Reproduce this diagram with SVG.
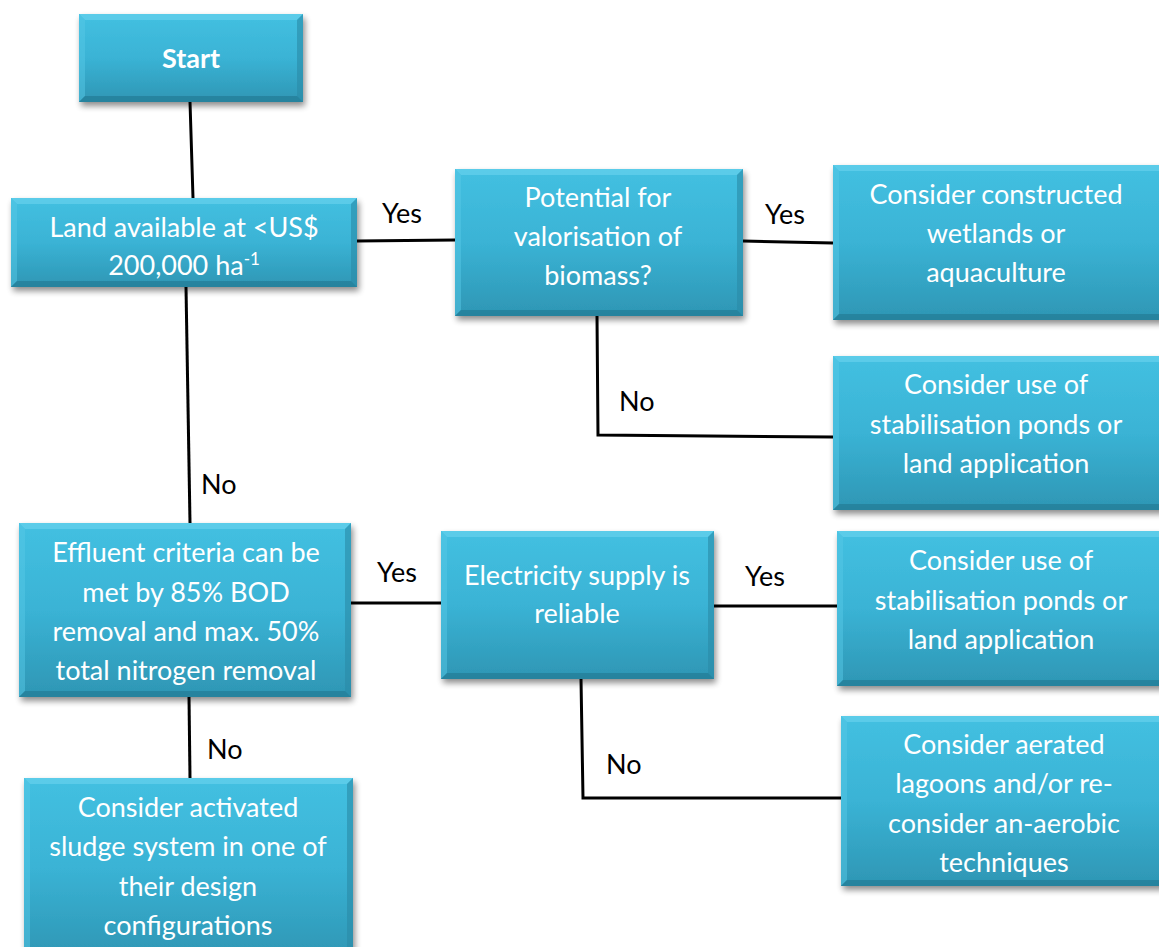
<svg xmlns="http://www.w3.org/2000/svg" width="1159" height="947" viewBox="0 0 1159 947">
<defs>
<linearGradient id="g" x1="0" y1="0" x2="0" y2="1">
<stop offset="0" stop-color="#43C0E1"/>
<stop offset="0.5" stop-color="#3AB3D5"/>
<stop offset="1" stop-color="#2E96B4"/>
</linearGradient>
<filter id="sh" x="-10%" y="-10%" width="130%" height="130%">
<feGaussianBlur in="SourceAlpha" stdDeviation="3"/>
<feOffset dx="2" dy="4" result="b"/>
<feComponentTransfer><feFuncA type="linear" slope="0.45"/></feComponentTransfer>
<feMerge><feMergeNode/><feMergeNode in="SourceGraphic"/></feMerge>
</filter>
</defs>
<style>
.box{fill:url(#g);filter:url(#sh)}
.bt{fill:#6DD3EE;opacity:0.6}
.bl{fill:#55C7E6;opacity:0.5}
.br{fill:#2A8AA6;opacity:0.6}
.bb{fill:#22768F;opacity:0.6}
.t{font-family:Lato,"Open Sans",sans-serif;font-size:27px;fill:#FFFFFF;text-anchor:middle}
.lb{font-family:Lato,"Open Sans",sans-serif;font-size:27px;fill:#000000}
.c{fill:none;stroke:#000000;stroke-width:3}
</style>
<rect width="1159" height="947" fill="#FFFFFF"/>
<g id="connectors">
<path class="c" d="M190,102 L193,198"/>
<path class="c" d="M357,241 L455,240"/>
<path class="c" d="M743,241 L833,243"/>
<path class="c" d="M597,316 L598,435 L833,437"/>
<path class="c" d="M186,287 L190,523"/>
<path class="c" d="M351,603 L441,603"/>
<path class="c" d="M714,606 L837,606"/>
<path class="c" d="M581,679 L583,798 L841,798"/>
<path class="c" d="M189,697 L190,778"/>
<text class="lb" x="382" y="223">Yes</text>
<text class="lb" x="765" y="224">Yes</text>
<text class="lb" x="619" y="411">No</text>
<text class="lb" x="201" y="494">No</text>
<text class="lb" x="377" y="582">Yes</text>
<text class="lb" x="745" y="586">Yes</text>
<text class="lb" x="606" y="774">No</text>
<text class="lb" x="207" y="759">No</text>
</g>
<g id="start">
<rect class="box" x="79" y="14" width="224" height="88"/>
<polygon class="bt" points="79,14 303,14 297,20 85,20"/>
<polygon class="bl" points="79,14 85,20 85,96 79,102"/>
<polygon class="br" points="303,14 303,102 297,96 297,20"/>
<polygon class="bb" points="79,102 303,102 297,96 85,96"/>
<text class="t" x="191" y="68" font-weight="bold">Start</text>
</g>
<g id="land">
<rect class="box" x="11" y="198" width="346" height="89"/>
<polygon class="bt" points="11,198 357,198 351,204 17,204"/>
<polygon class="bl" points="11,198 17,204 17,281 11,287"/>
<polygon class="br" points="357,198 357,287 351,281 351,204"/>
<polygon class="bb" points="11,287 357,287 351,281 17,281"/>
<text class="t" x="184" y="237">Land available at &lt;US$</text>
<text class="t" x="184" y="275">200,000 ha<tspan font-size="17" dy="-10">-1</tspan></text>
</g>
<g id="potential">
<rect class="box" x="455" y="169" width="288" height="147"/>
<polygon class="bt" points="455,169 743,169 737,175 461,175"/>
<polygon class="bl" points="455,169 461,175 461,310 455,316"/>
<polygon class="br" points="743,169 743,316 737,310 737,175"/>
<polygon class="bb" points="455,316 743,316 737,310 461,310"/>
<text class="t" x="598" y="207">Potential for</text>
<text class="t" x="598" y="246">valorisation of</text>
<text class="t" x="598" y="285">biomass?</text>
</g>
<g id="constructed">
<rect class="box" x="833" y="165" width="335" height="155"/>
<polygon class="bt" points="833,165 1168,165 1162,171 839,171"/>
<polygon class="bl" points="833,165 839,171 839,314 833,320"/>
<polygon class="bb" points="833,320 1168,320 1162,314 839,314"/>
<text class="t" x="996" y="204">Consider constructed</text>
<text class="t" x="996" y="243">wetlands or</text>
<text class="t" x="996" y="282">aquaculture</text>
</g>
<g id="stab1">
<rect class="box" x="833" y="356" width="335" height="154"/>
<polygon class="bt" points="833,356 1168,356 1162,362 839,362"/>
<polygon class="bl" points="833,356 839,362 839,504 833,510"/>
<polygon class="bb" points="833,510 1168,510 1162,504 839,504"/>
<text class="t" x="996" y="394">Consider use of</text>
<text class="t" x="996" y="434">stabilisation ponds or</text>
<text class="t" x="996" y="473">land application</text>
</g>
<g id="effluent">
<rect class="box" x="19" y="523" width="332" height="174"/>
<polygon class="bt" points="19,523 351,523 345,529 25,529"/>
<polygon class="bl" points="19,523 25,529 25,691 19,697"/>
<polygon class="br" points="351,523 351,697 345,691 345,529"/>
<polygon class="bb" points="19,697 351,697 345,691 25,691"/>
<text class="t" x="186" y="562">Effluent criteria can be</text>
<text class="t" x="186" y="602">met by 85% BOD</text>
<text class="t" x="186" y="641">removal and max. 50%</text>
<text class="t" x="186" y="680">total nitrogen removal</text>
</g>
<g id="electricity">
<rect class="box" x="441" y="531" width="273" height="148"/>
<polygon class="bt" points="441,531 714,531 708,537 447,537"/>
<polygon class="bl" points="441,531 447,537 447,673 441,679"/>
<polygon class="br" points="714,531 714,679 708,673 708,537"/>
<polygon class="bb" points="441,679 714,679 708,673 447,673"/>
<text class="t" x="577" y="585">Electricity supply is</text>
<text class="t" x="577" y="623">reliable</text>
</g>
<g id="stab2">
<rect class="box" x="837" y="531" width="330" height="155"/>
<polygon class="bt" points="837,531 1167,531 1161,537 843,537"/>
<polygon class="bl" points="837,531 843,537 843,680 837,686"/>
<polygon class="bb" points="837,686 1167,686 1161,680 843,680"/>
<text class="t" x="1001" y="570">Consider use of</text>
<text class="t" x="1001" y="610">stabilisation ponds or</text>
<text class="t" x="1001" y="649">land application</text>
</g>
<g id="aerated">
<rect class="box" x="841" y="716" width="325" height="170"/>
<polygon class="bt" points="841,716 1166,716 1160,722 847,722"/>
<polygon class="bl" points="841,716 847,722 847,880 841,886"/>
<polygon class="bb" points="841,886 1166,886 1160,880 847,880"/>
<text class="t" x="1004" y="754">Consider aerated</text>
<text class="t" x="1004" y="793">lagoons and/or re-</text>
<text class="t" x="1004" y="833">consider an-aerobic</text>
<text class="t" x="1004" y="872">techniques</text>
</g>
<g id="activated">
<rect class="box" x="24" y="778" width="329" height="180"/>
<polygon class="bt" points="24,778 353,778 347,784 30,784"/>
<polygon class="bl" points="24,778 30,784 30,952 24,958"/>
<polygon class="br" points="353,778 353,958 347,952 347,784"/>
<text class="t" x="188" y="817">Consider activated</text>
<text class="t" x="188" y="856">sludge system in one of</text>
<text class="t" x="188" y="896">their design</text>
<text class="t" x="188" y="935">configurations</text>
</g>
</svg>
